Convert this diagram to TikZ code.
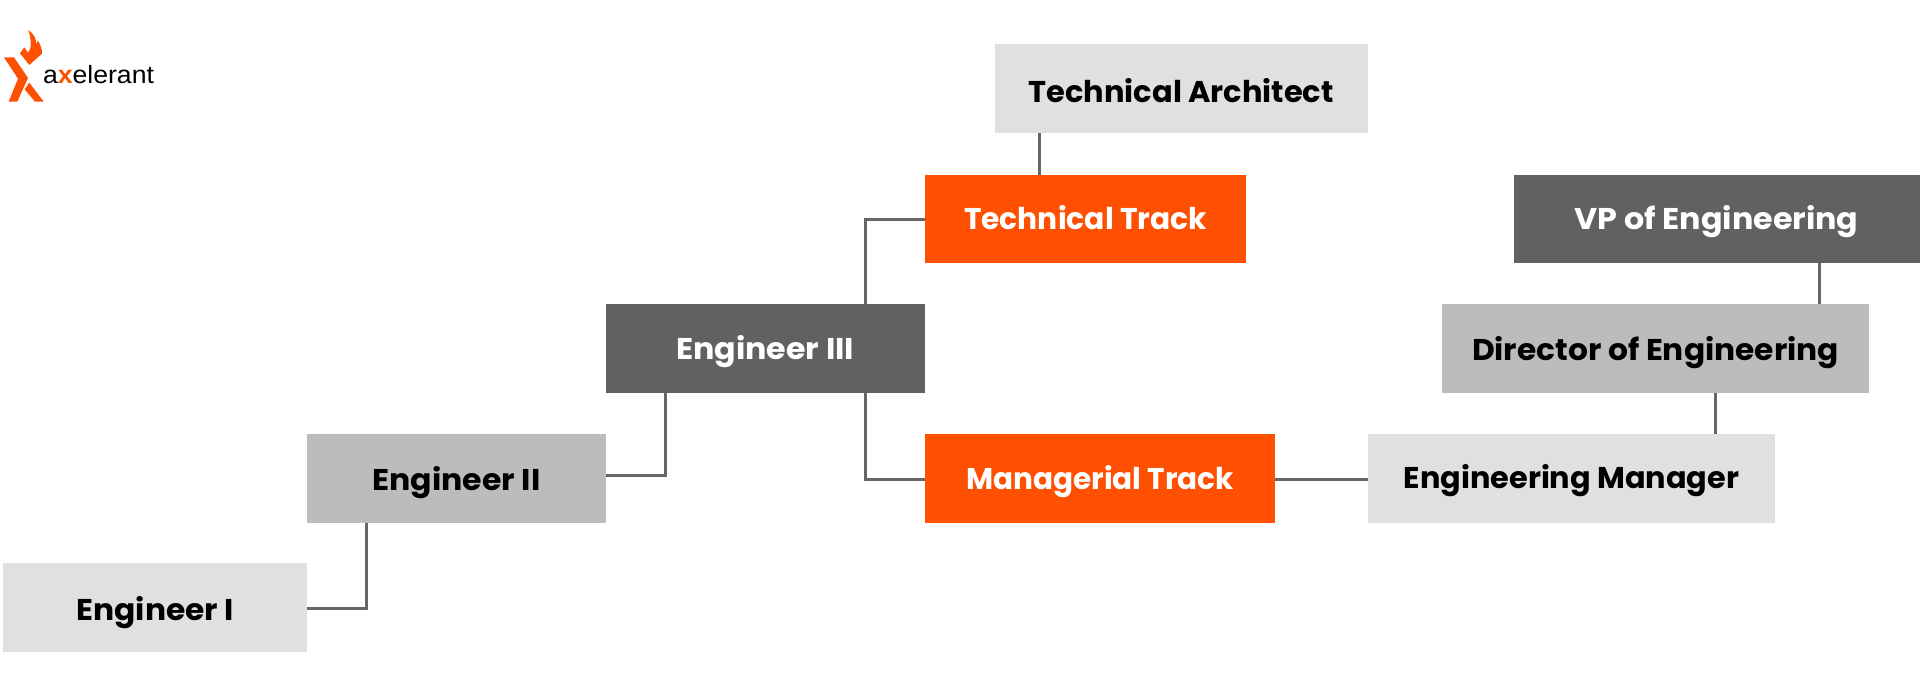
\documentclass[tikz,border=0pt]{standalone}
\usepackage{fontspec}
\usepackage{graphicx}
\setmainfont{Poppins}[BoldFont=Poppins Bold]
\newfontfamily\logofont{Liberation Sans}
\definecolor{orangeT}{HTML}{FF4F00}
\definecolor{darkB}{HTML}{616161}
\definecolor{midB}{HTML}{BCBCBC}
\definecolor{lightB}{HTML}{E0E0E0}
\definecolor{lineC}{HTML}{666666}
\tikzset{
  box/.style={anchor=north west,inner sep=0pt,outer sep=0pt,align=center,font=\fontsize{30}{34}\selectfont\bfseries},
  lightbox/.style={box,fill=lightB,text=black},
  midbox/.style={box,fill=midB,text=black},
  darkbox/.style={box,fill=darkB,text=white},
  orangebox/.style={box,fill=orangeT,text=white},
  conn/.style={draw=lineC,line width=3pt},
  logomark/.style={fill=orangeT,draw=none},
  logotext/.style={anchor=base west,inner sep=0pt,outer sep=0pt,text=black,font=\logofont\fontsize{25}{28}\selectfont}
}
% name, style, x0,y0,x1,y1, text, text width, baseline offset below centre
\newcommand{\rolebox}[9]{%
  \pgfmathsetlengthmacro{\bw}{#5-#3}\pgfmathsetlengthmacro{\bh}{#6-#4}%
  \pgfmathsetlengthmacro{\th}{12+2*#9}%
  \node[#2,minimum width=\bw,minimum height=\bh,text height=\th,text depth=12pt] (#1) at (#3,#4) {\resizebox{#8pt}{\height}{#7}};}
\begin{document}
\begin{tikzpicture}[x=1pt,y=-1pt]
\useasboundingbox (0,0) rectangle (1924,694);
\fill[white] (0,0) rectangle (1924,694);
\coordinate (j1) at (366.5,522.5);
\coordinate (j2) at (665,393);
\coordinate (j3) at (865,304);
\coordinate (j4) at (865,393);
\coordinate (j5) at (1039,133);
\coordinate (j6) at (1715,393);
\coordinate (j7) at (1819,262.5);
\rolebox{e1}{lightbox}{2.5}{563}{307}{652}{\hspace*{1pt}Engineer I}{158.5}{12.5}
\rolebox{e2}{midbox}{307}{433.5}{606}{522.5}{Engineer II}{168}{12}
\rolebox{e3}{darkbox}{605.5}{304}{925}{393}{Engineer III}{178}{11}
\rolebox{tt}{orangebox}{925}{175}{1246}{262.5}{Technical Track}{243}{11}
\rolebox{mt}{orangebox}{925}{433.5}{1275}{522.5}{Managerial Track}{268}{11.5}
\rolebox{ta}{lightbox}{994.5}{44}{1368}{133}{Technical Architect}{305}{13.5}
\rolebox{em}{lightbox}{1368}{433.5}{1775}{522.5}{Engineering Manager}{335.5}{10}
\rolebox{dir}{midbox}{1442}{304}{1869}{393}{Director of Engineering}{367}{11.5}
\rolebox{vp}{darkbox}{1513.5}{175}{1919.5}{262.5}{VP of Engineering}{284}{10.5}
\draw[conn] ([yshift=-1pt]e1.east) -| (j1);
\draw[conn] ([yshift=3pt]e2.east) -| (j2);
\draw[conn] ([yshift=-0.7pt]tt.west) -| (j3);
\draw[conn] ([yshift=-1pt]mt.west) -| (j4);
\draw[conn] (j5) -- (j5 |- tt.north);
\draw[conn] ([yshift=-1pt]mt.east) -- ([yshift=-1pt]em.west);
\draw[conn] (j6) -- (j6 |- em.north);
\draw[conn] (j7) -- (j7 |- dir.north);
% logo mark
\begin{scope}[shift={(0,20)},x=0.3333pt,y=-0.3333pt]
\fill[logomark] (12,112) -- (42,112) -- (84,174) -- (52,245) -- (26,245) -- (54,176) -- cycle;
\fill[logomark] (88,188) -- (131,245) -- (105,245) -- (74,208) -- cycle;
\fill[logomark] (88,135) -- (60,100) -- (73,82) -- (84,98)
  .. controls (94,86) and (96,66) .. (85,30)
  .. controls (102,42) and (110,58) .. (108,72)
  -- (114,62) .. controls (122,76) and (127,88) .. (126,101) -- cycle;
\end{scope}
\node[logotext] (logo) at (43,83.5) {\resizebox{111pt}{\height}{a\textcolor{orangeT}{\textbf{x}}elerant}};
\end{tikzpicture}
\end{document}
